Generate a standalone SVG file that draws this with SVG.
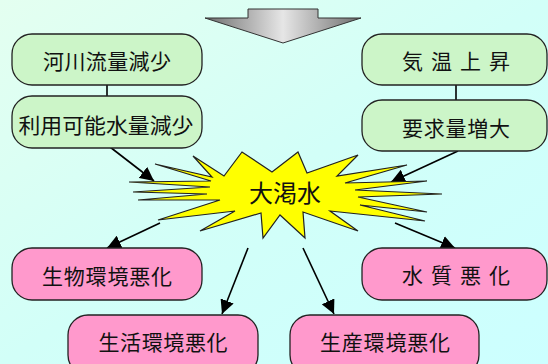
<svg xmlns="http://www.w3.org/2000/svg" width="548" height="364" viewBox="0 0 548 364">
<defs>
<linearGradient id="bg" x1="0" y1="0" x2="1" y2="1">
<stop offset="0" stop-color="#e4fff0"/>
<stop offset="0.5" stop-color="#d2fff8"/>
<stop offset="1" stop-color="#ccffff"/>
</linearGradient>
<linearGradient id="gray" x1="0" y1="0" x2="1" y2="0">
<stop offset="0" stop-color="#6e6e6e"/>
<stop offset="0.5" stop-color="#e6e6e6"/>
<stop offset="1" stop-color="#6e6e6e"/>
</linearGradient>
<marker id="ah" viewBox="0 0 10 10" refX="10" refY="5" markerWidth="14" markerHeight="14" markerUnits="userSpaceOnUse" orient="auto">
<path d="M0,0 L10,5 L0,10 Z" fill="#000"/>
</marker>
<style>
.g rect{fill:#ccf5c8;stroke:#222;stroke-width:1.3}
.p rect{fill:#ff99cc;stroke:#222;stroke-width:1.3}
text{font-family:"Noto Sans CJK JP","Noto Sans CJK SC",sans-serif;font-size:21px;fill:#111;text-anchor:middle}
.c line{stroke:#000;stroke-width:1.6}
.a line{stroke:#000;stroke-width:1.6;marker-end:url(#ah)}
</style>
</defs>
<rect x="0" y="0" width="548" height="364" fill="url(#bg)"/>
<g id="top-arrow">
<polygon points="248,9 318,9 318,18 361,18 283,43 205,18 248,18" fill="url(#gray)" stroke="#333" stroke-width="1"/>
</g>
<g id="connectors">
<g class="c">
<line x1="107" y1="85" x2="107" y2="96"/>
<line x1="456" y1="85" x2="456" y2="100"/>
</g>
<g class="a">
<line x1="110" y1="147" x2="154" y2="181"/>
<line x1="458" y1="151" x2="391" y2="182"/>
<line x1="160" y1="223" x2="107" y2="248"/>
<line x1="248" y1="248" x2="222" y2="314"/>
<line x1="303" y1="248" x2="334" y2="314"/>
<line x1="395" y1="223" x2="455" y2="248"/>
</g>
</g>
<g id="burst">
<polygon points="193,156 224,176 242,152 272,172 298,152 307,173 358,155 337,176 407,165 345,183 427,181 355,190 442,194 358,197 427,212 360,205 425,221 330,211 358,231 303,212 305,238 280,215 263,238 261,213 200,231 235,211 158,220 220,200 138,200 207,194 133,192 210,187 129,182 211,181 155,164 212,177" fill="#ffff00" stroke="#222" stroke-width="1.2" stroke-linejoin="miter"/>
<text x="285" y="202" style="font-size:24px">大渇水</text>
</g>
<g id="n1" class="g">
<rect x="12" y="34" width="190" height="51" rx="20"/>
<text x="107" y="69" textLength="128" lengthAdjust="spacing">河川流量減少</text>
</g>
<g id="n2" class="g">
<rect x="12" y="96" width="190" height="52" rx="20"/>
<text x="106" y="133" textLength="175" lengthAdjust="spacingAndGlyphs">利用可能水量減少</text>
</g>
<g id="n3" class="g">
<rect x="362" y="34" width="185" height="51" rx="20"/>
<text x="456" y="69" textLength="108" lengthAdjust="spacing">気 温 上 昇</text>
</g>
<g id="n4" class="g">
<rect x="362" y="100" width="185" height="51" rx="20"/>
<text x="456" y="136" textLength="108" lengthAdjust="spacing">要求量増大</text>
</g>
<g id="n5" class="p">
<rect x="12" y="248" width="190" height="52" rx="20"/>
<text x="107" y="284" textLength="130" lengthAdjust="spacing">生物環境悪化</text>
</g>
<g id="n6" class="p">
<rect x="362" y="248" width="185" height="52" rx="20"/>
<text x="456" y="283" textLength="108" lengthAdjust="spacing">水 質 悪 化</text>
</g>
<g id="n7" class="p">
<rect x="68" y="315" width="190" height="60" rx="20"/>
<text x="163" y="350" textLength="129" lengthAdjust="spacing">生活環境悪化</text>
</g>
<g id="n8" class="p">
<rect x="290" y="315" width="189" height="60" rx="20"/>
<text x="385" y="350" textLength="130" lengthAdjust="spacing">生産環境悪化</text>
</g>
</svg>
